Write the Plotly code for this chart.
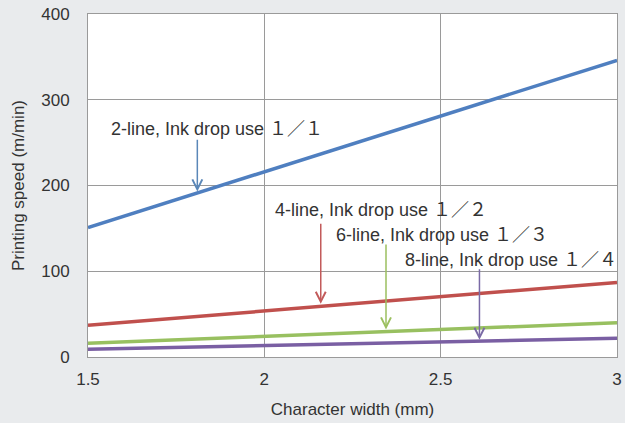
import plotly.graph_objects as go

x_vals = [1.5, 3.0]
series_names = ["2-line", "4-line", "6-line", "8-line"]
blue_vals = [151, 346]
red_vals = [37, 87]
green_vals = [16, 40]
purple_vals = [9, 22]
colors = ["#4f7fc0", "#c0504d", "#98c060", "#7a5fa3"]
arrow_colors = ["#5a87b8", "#c25a5a", "#9cc060", "#7a6aa6"]

labels = ["2-line, Ink drop use １／１", "4-line, Ink drop use １／２",
          "6-line, Ink drop use １／３", "8-line, Ink drop use １／４"]
# arrow x positions, tip y, tail y, label positions (data coords)
arrow_x = [1.81, 2.16, 2.345, 2.61]
arrow_tip = [193, 62, 32, 20]
arrow_tail = [255, 157, 133, 104]
label_x = [1.56, 2.025, 2.197, 2.393]
label_y = [266, 172, 142, 113]

all_vals = [blue_vals, red_vals, green_vals, purple_vals]

fig = go.Figure()
for name, vals, c in zip(series_names, all_vals, colors):
    fig.add_trace(go.Scatter(x=x_vals, y=vals, mode="lines", name=name,
                             line=dict(color=c, width=3.5)))

font_family = "Liberation Sans, Arial, Noto Sans CJK JP, sans-serif"
for i in range(4):
    fig.add_annotation(x=arrow_x[i], y=arrow_tip[i], ax=arrow_x[i], ay=arrow_tail[i],
                       xref="x", yref="y", axref="x", ayref="y", text="",
                       showarrow=True, arrowhead=5, arrowsize=1.3, arrowwidth=1.5,
                       arrowcolor=arrow_colors[i])
    fig.add_annotation(x=label_x[i], y=label_y[i], xref="x", yref="y", text=labels[i],
                       xanchor="left", yanchor="middle",
                       showarrow=False, font=dict(size=18, color="#333333", family=font_family),
                       bgcolor="rgba(255,255,255,0)")

fig.update_layout(
    width=625, height=423,
    margin=dict(l=88, r=8, t=14, b=66),
    paper_bgcolor="#e9ebed",
    plot_bgcolor="#ffffff",
    showlegend=False,
    font=dict(family=font_family, size=17, color="#333333"),
)
fig.update_xaxes(range=[1.5, 3], tickvals=[1.5, 2, 2.5, 3], ticktext=["1.5", "2", "2.5", "3"],
                 showgrid=True, gridcolor="#9a9a9a", gridwidth=1,
                 showline=True, linecolor="#9a9a9a", linewidth=1, mirror=True,
                 ticks="outside", ticklen=7, tickcolor="rgba(0,0,0,0)",
                 zeroline=False, automargin=False,
                 title=dict(text="Character width (mm)", standoff=14, font=dict(size=17)))
fig.update_yaxes(range=[0, 400], tickvals=[0, 100, 200, 300, 400],
                 showgrid=True, gridcolor="#9a9a9a", gridwidth=1,
                 showline=True, linecolor="#9a9a9a", linewidth=1, mirror=True,
                 ticks="outside", ticklen=14, tickcolor="rgba(0,0,0,0)",
                 zeroline=False, automargin=False,
                 title=dict(text="Printing speed (m/min)", standoff=12, font=dict(size=17)))

fig.write_html("out.html", config={"displayModeBar": False},
               post_script="document.body.style.margin='0';document.body.style.padding='0';document.body.style.overflow='hidden';")
